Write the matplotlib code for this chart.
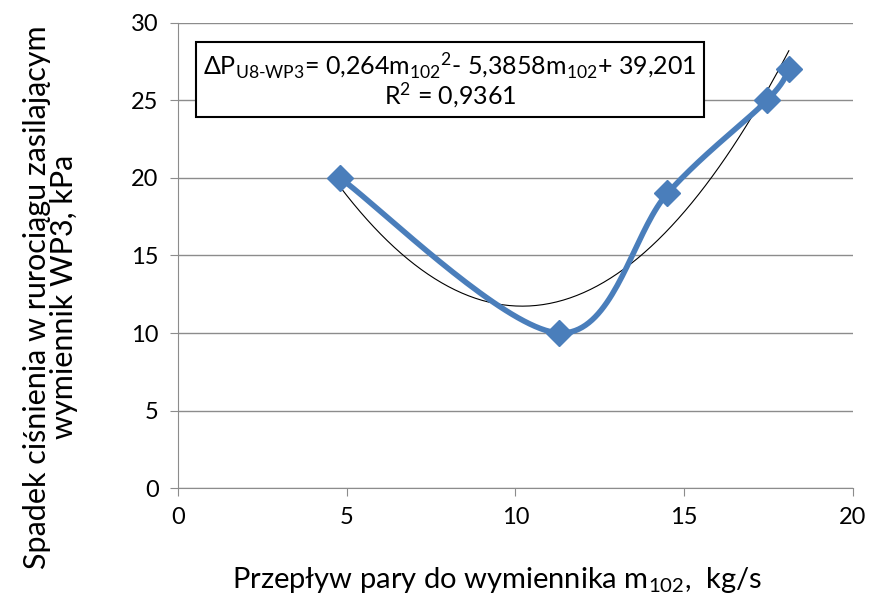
import numpy as np
import matplotlib
matplotlib.use("Agg")
import matplotlib.pyplot as plt

plt.rcParams['font.family'] = ['Lato', 'DejaVu Sans']
plt.rcParams['mathtext.default'] = 'regular'

# measured points
m102 = [4.8, 11.3, 14.5, 17.45, 18.1]
dp = [20, 10, 19, 25, 27]
# trend line coefficients (a*x^2 + b*x + c)
coef = [0.264, -5.3858, 39.201]


def smooth_line(x, y, n=40):
    # Excel-like smoothed line (cardinal / Catmull-Rom bezier)
    px = np.array([x[0]] + list(x) + [x[-1]], dtype=float)
    py = np.array([y[0]] + list(y) + [y[-1]], dtype=float)
    xs, ys = [], []
    t = np.linspace(0, 1, n)
    for i in range(1, len(px) - 2):
        p0 = np.array([px[i], py[i]])
        p3 = np.array([px[i + 1], py[i + 1]])
        c1 = p0 + (np.array([px[i + 1], py[i + 1]]) - np.array([px[i - 1], py[i - 1]])) / 6
        c2 = p3 - (np.array([px[i + 2], py[i + 2]]) - np.array([px[i], py[i]])) / 6
        b = ((1 - t) ** 3)[:, None] * p0 + (3 * (1 - t) ** 2 * t)[:, None] * c1 \
            + (3 * (1 - t) * t ** 2)[:, None] * c2 + (t ** 3)[:, None] * p3
        xs.extend(b[:, 0])
        ys.extend(b[:, 1])
    return xs, ys


fig = plt.figure(figsize=(8.76, 6.04), dpi=100)
ax = fig.add_axes([0.2032, 0.192, 0.7705, 0.770])

sx, sy = smooth_line(m102, dp)
ax.plot(sx, sy, color='#4a7ebb', lw=4, zorder=3)
ax.plot(m102, dp, 'D', color='#4a7ebb', ms=13, zorder=4)

xt = np.linspace(m102[0], m102[-1], 200)
ax.plot(xt, np.polyval(coef, xt), color='black', lw=0.8, zorder=2)

ax.set_xlim(0, 20)
ax.set_ylim(0, 30)
ax.set_xticks([0, 5, 10, 15, 20])
ax.set_yticks(range(0, 31, 5))
ax.yaxis.grid(True, color='#8c8c8c', lw=1)
ax.set_axisbelow(True)
for s in ['top', 'right']:
    ax.spines[s].set_visible(False)
for s in ['left', 'bottom']:
    ax.spines[s].set_color('#8c8c8c')
ax.tick_params(direction='out', length=6, color='#8c8c8c', labelsize=17, pad=8)

ax.set_xlabel("Przepływ pary do wymiennika m$_{102}$,  kg/s", fontsize=21)
ax.xaxis.set_label_coords(0.473, -0.165)
ax.set_ylabel("Spadek ciśnienia w rurociągu zasilającym\nwymiennik WP3, kPa", fontsize=22,
              linespacing=0.95)
ax.yaxis.set_label_coords(-0.148, 0.41)

ax.text(0.403, 0.877,
        "ΔP$_{U8\u2010WP3}$= 0,264m$_{102}$$^{2}$- 5,3858m$_{102}$+ 39,201\nR$^{2}$ = 0,9361",
        transform=ax.transAxes, ha='center', va='center', fontsize=18, linespacing=1.0,
        bbox=dict(boxstyle='square,pad=0.3', fc='white', ec='black', lw=1.5), zorder=5)

fig.savefig('out.png', dpi=100)
